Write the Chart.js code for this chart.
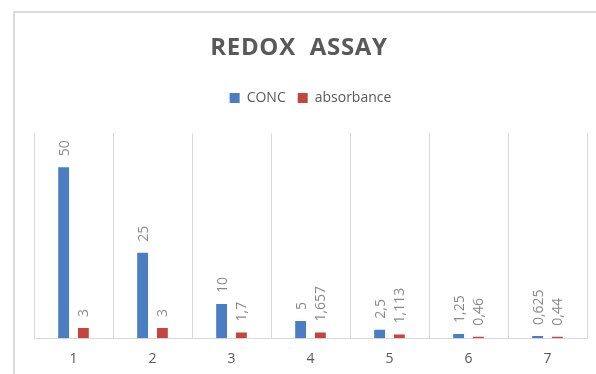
<!DOCTYPE html>
<html>
<head>
<meta charset="utf-8">
<script src="https://cdn.jsdelivr.net/npm/chart.js@4/dist/chart.umd.min.js"></script>
<style>
  html, body { margin: 0; padding: 0; background: #ffffff; }
  #wrap { position: relative; width: 596px; height: 374px; }
  canvas { display: block; }
</style>
</head>
<body>
<div id="wrap"><canvas id="chart" width="596" height="374"></canvas></div>
<script>
// Dilution steps and their readings
const categories = ['1', '2', '3', '4', '5', '6', '7'];
const concValues = [50, 25, 10, 5, 2.5, 1.25, 0.625];
const absorbanceValues = [3, 3, 1.7, 1.657, 1.113, 0.46, 0.44];
const chartTitle = 'REDOX  ASSAY';

const BLUE = '#4A7DC2';
const RED = '#C2453F';
const GRID = '#d9d9d9';
const TEXT = '#595959';
const LABEL = '#8a8a8a';

// Outer chart frame (top and left edges)
const framePlugin = {
  id: 'frame',
  beforeDraw(chart) {
    const ctx = chart.ctx;
    ctx.save();
    ctx.strokeStyle = '#dcdcdc';
    ctx.lineWidth = 2;
    ctx.beginPath();
    ctx.moveTo(14, chart.height);
    ctx.lineTo(14, 12);
    ctx.lineTo(chart.width, 12);
    ctx.stroke();
    ctx.restore();
  }
};

// Letter-spaced heading
const headingPlugin = {
  id: 'heading',
  afterDraw(chart) {
    const ctx = chart.ctx;
    ctx.save();
    ctx.font = 'bold 24px "Open Sans", sans-serif';
    ctx.letterSpacing = '0.7px';
    ctx.fillStyle = TEXT;
    ctx.textAlign = 'center';
    ctx.textBaseline = 'middle';
    ctx.fillText(chartTitle, 299, 48);
    ctx.restore();
  }
};

// Extra room between the legend and the plot
const legendGap = {
  id: 'legendGap',
  beforeInit(chart) {
    const fit = chart.legend.fit;
    chart.legend.fit = function () {
      fit.call(this);
      this.height += 18;
    };
  }
};

// Vertical value labels above each bar, decimal comma
const valueLabels = {
  id: 'valueLabels',
  afterDatasetsDraw(chart) {
    const ctx = chart.ctx;
    ctx.save();
    ctx.font = '14px "Open Sans", sans-serif';
    ctx.fillStyle = LABEL;
    ctx.textAlign = 'left';
    ctx.textBaseline = 'middle';
    chart.data.datasets.forEach((ds, i) => {
      const meta = chart.getDatasetMeta(i);
      meta.data.forEach((bar, j) => {
        const txt = String(ds.data[j]).replace('.', ',');
        ctx.save();
        ctx.translate(bar.x + 1, bar.y - 11);
        ctx.rotate(-Math.PI / 2);
        ctx.fillText(txt, 0, 0);
        ctx.restore();
      });
    });
    ctx.restore();
  }
};

new Chart(document.getElementById('chart'), {
  type: 'bar',
  data: {
    labels: categories,
    datasets: [
      { label: 'CONC', data: concValues, backgroundColor: BLUE },
      { label: 'absorbance', data: absorbanceValues, backgroundColor: RED }
    ]
  },
  options: {
    responsive: false,
    animation: false,
    devicePixelRatio: 1,
    layout: { padding: { left: 34, right: 9, top: 79, bottom: -5 } },
    datasets: {
      bar: { categoryPercentage: 0.5, barPercentage: 0.55 }
    },
    plugins: {
      title: { display: false },
      legend: {
        display: true,
        labels: {
          color: TEXT,
          boxWidth: 10,
          boxHeight: 10,
          padding: 12,
          font: { family: '"Open Sans", sans-serif', size: 14 }
        }
      },
      tooltip: { enabled: false }
    },
    scales: {
      x: {
        grid: { color: GRID, lineWidth: 1, offset: true, drawTicks: false },
        border: { color: GRID, width: 1 },
        ticks: {
          color: TEXT,
          padding: 12,
          font: { family: '"Open Sans", sans-serif', size: 14 }
        }
      },
      y: {
        display: false,
        min: 0,
        max: 60
      }
    }
  },
  plugins: [framePlugin, headingPlugin, legendGap, valueLabels]
});
</script>
</body>
</html>
